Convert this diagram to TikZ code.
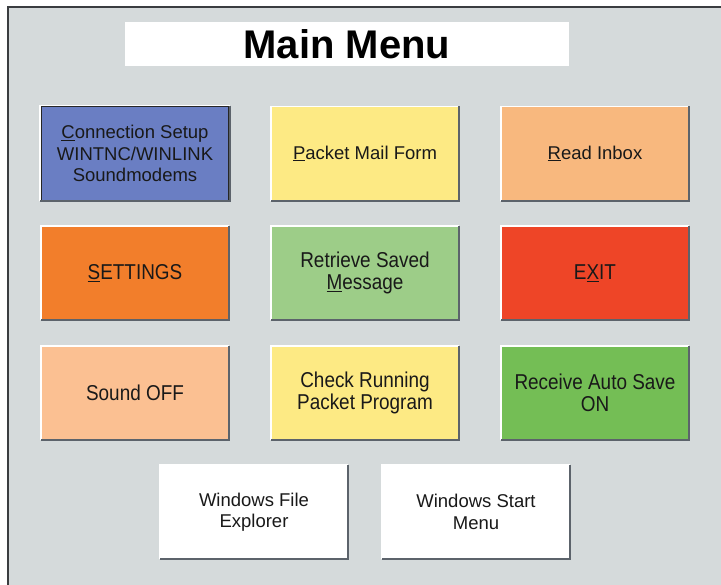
\documentclass[tikz,border=0pt]{standalone}
\usepackage{fontspec}
\setmainfont{Liberation Sans}
\newfontfamily\tallfont[FakeStretch=0.88]{Liberation Sans}
\definecolor{bggrey}{HTML}{D5DADB}
\definecolor{framegrey}{HTML}{3A3D40}
\definecolor{shadegrey}{HTML}{5C636B}
\definecolor{btnblue}{HTML}{6A7EC3}
\definecolor{btnyellow}{HTML}{FDEA84}
\definecolor{btnpeach}{HTML}{F8B87E}
\definecolor{btnorange}{HTML}{F27E2B}
\definecolor{btnsage}{HTML}{9DCD88}
\definecolor{btnred}{HTML}{EE4527}
\definecolor{btnsalmon}{HTML}{FBC092}
\definecolor{btngreen}{HTML}{74BE55}
\tikzset{
    button/.style = {
        rectangle, fill=#1, minimum width=188pt, minimum height=94pt, inner sep=0,
        align=center, text=black!90, font=\fontsize{18.5}{21.5}\selectfont
    },
    tall/.style = {font=\tallfont\fontsize{21.5}{22}\selectfont},
    hilite/.style = {draw=white, line width=1.5pt},
    shade/.style = {draw=shadegrey, line width=2pt}
}

\begin{document}
\begin{tikzpicture}[x=1pt, y=-1pt]
    \useasboundingbox (0,0) rectangle (721,585);
    \fill[white] (0,0) rectangle (721,585);
    \fill[bggrey] (8,7) rectangle (721,585);
    \draw[framegrey, line width=1.5pt] (8,585) -- (8,7) -- (721,7);
    % title
    \node[fill=white, minimum width=444pt, minimum height=44pt, inner sep=0,
          font=\bfseries\fontsize{40}{40}\selectfont] (title) at (347,44) {Main Menu};
    % first row
    \node[button=btnblue, draw=black!85, line width=1.6pt] (conn) at (135,153.5)
        {\underline{C}onnection Setup\\WINTNC/WINLINK\\Soundmodems};
    \node[button=btnyellow] (mail) at (365,153.5) {\underline{P}acket Mail Form};
    \node[button=btnpeach] (inbox) at (595,153.5) {\underline{R}ead Inbox};
    % second row
    \node[button=btnorange, tall] (settings) at (135,273) {\underline{S}ETTINGS};
    \node[button=btnsage, tall] (saved) at (365,273) {Retrieve Saved\\\underline{M}essage};
    \node[button=btnred, tall] (exit) at (595,273) {E\underline{X}IT};
    % third row
    \node[button=btnsalmon, tall] (sound) at (135,393) {Sound OFF};
    \node[button=btnyellow, tall] (check) at (365,393) {Check Running\\Packet Program};
    \node[button=btngreen, tall] (autosave) at (595,393) {Receive Auto Save\\ON};
    % windows buttons
    \node[button=white] (explorer) at (254,512) {Windows File\\Explorer};
    \node[button=white] (start) at (476,512) {Windows Start\\Menu};
    % raised edges
    \foreach \b in {conn,mail,inbox,settings,saved,exit,sound,check,autosave,explorer,start} {
        \draw[hilite] (\b.south west) -- (\b.north west) -- (\b.north east);
        \draw[shade] (\b.north east) -- (\b.south east) -- (\b.south west);
    }
\end{tikzpicture}
\end{document}
